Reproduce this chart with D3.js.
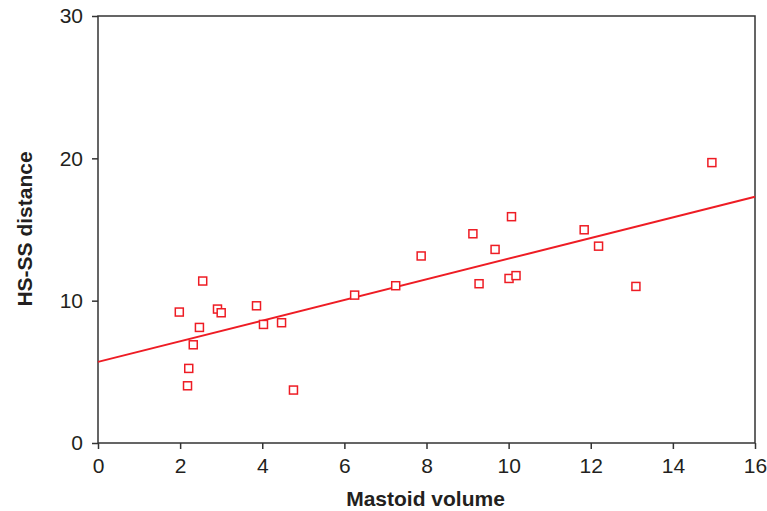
<!DOCTYPE html>
<html>
<head>
<meta charset="utf-8">
<script src="https://cdn.jsdelivr.net/npm/d3@7"></script>
<style>
  body { margin: 0; background: #fff; }
  text { font-family: "Liberation Sans", Arial, sans-serif; fill: #231f20; }
</style>
</head>
<body>
<div id="vis"></div>
<script>
// data
let mastoidVolume = [1.98, 2.18, 2.21, 2.32, 2.47, 2.55, 2.91, 3.0, 3.86, 4.03, 4.47, 4.76,
  6.25, 7.25, 7.87, 9.13, 9.28, 9.67, 10.01, 10.07, 10.18, 11.84, 12.19, 13.1, 14.95]
let hsDistance = [9.2, 4.02, 5.24, 6.9, 8.12, 11.38, 9.41, 9.15, 9.64, 8.33, 8.45, 3.72,
  10.39, 11.05, 13.14, 14.7, 11.19, 13.6, 11.56, 15.9, 11.76, 14.98, 13.83, 11.0, 19.7]
let fitLine = [[0, 5.7], [16, 17.3]]   // regression line ends
let xTicks = [0, 2, 4, 6, 8, 10, 12, 14, 16]
let yTicks = [0, 10, 20, 30]

let W = 767, H = 511
let margin = {top: 16, left: 98, right: 12, bottom: 68}
let width = W - margin.left - margin.right,
    height = H - margin.top - margin.bottom

let svg = d3.select('#vis')
  .append('svg')
  .attr('width', W)
  .attr('height', H)

let g = svg.append('g')
  .attr('transform', `translate(${margin.left},${margin.top})`)

let xScale = d3.scaleLinear().domain([0, 16]).range([0, width])
let yScale = d3.scaleLinear().domain([0, 30]).range([height, 0])

// frame
g.append('rect')
  .attr('x', 0).attr('y', 0)
  .attr('width', width).attr('height', height)
  .attr('fill', 'none')
  .attr('stroke', '#333')
  .attr('stroke-width', 1.5)

// axes
let xAxis = d3.axisBottom(xScale).tickValues(xTicks).tickSize(6).tickPadding(9).tickSizeOuter(0)
let yAxis = d3.axisLeft(yScale).tickValues(yTicks).tickSize(6).tickPadding(9).tickSizeOuter(0)

let gx = g.append('g')
  .attr('transform', `translate(0,${height})`)
  .call(xAxis)
gx.select('.domain').remove()
gx.selectAll('line').attr('stroke', '#333').attr('stroke-width', 1.5)

let gy = g.append('g').call(yAxis)
gy.select('.domain').remove()
gy.selectAll('line').attr('stroke', '#333').attr('stroke-width', 1.5)

g.selectAll('.tick text')
  .style('font-size', '21px')
  .style('font-family', '"Liberation Sans", Arial, sans-serif')
  .attr('fill', '#231f20')

// regression line
g.append('path')
  .datum(fitLine)
  .attr('d', d3.line().x(d => xScale(d[0])).y(d => yScale(d[1])))
  .attr('fill', 'none')
  .attr('stroke', '#ee1c24')
  .attr('stroke-width', 2)

// points
let pts = mastoidVolume.map((x, i) => ({x: x, y: hsDistance[i]}))
g.selectAll('.point')
  .data(pts)
  .enter()
  .append('rect')
  .attr('class', 'point')
  .attr('x', d => xScale(d.x) - 4)
  .attr('y', d => yScale(d.y) - 4)
  .attr('width', 8)
  .attr('height', 8)
  .attr('fill', '#fff')
  .attr('stroke', '#ee1c24')
  .attr('stroke-width', 1.5)

// axis labels
svg.append('text')
  .attr('x', margin.left + width / 2 - 1)
  .attr('y', 506)
  .attr('text-anchor', 'middle')
  .style('font-size', '21px')
  .style('font-weight', 'bold')
  .text('Mastoid volume')

svg.append('text')
  .attr('transform', 'rotate(-90)')
  .attr('x', -229)
  .attr('y', 32)
  .attr('text-anchor', 'middle')
  .style('font-size', '21px')
  .style('font-weight', 'bold')
  .text('HS-SS distance')
</script>
</body>
</html>
